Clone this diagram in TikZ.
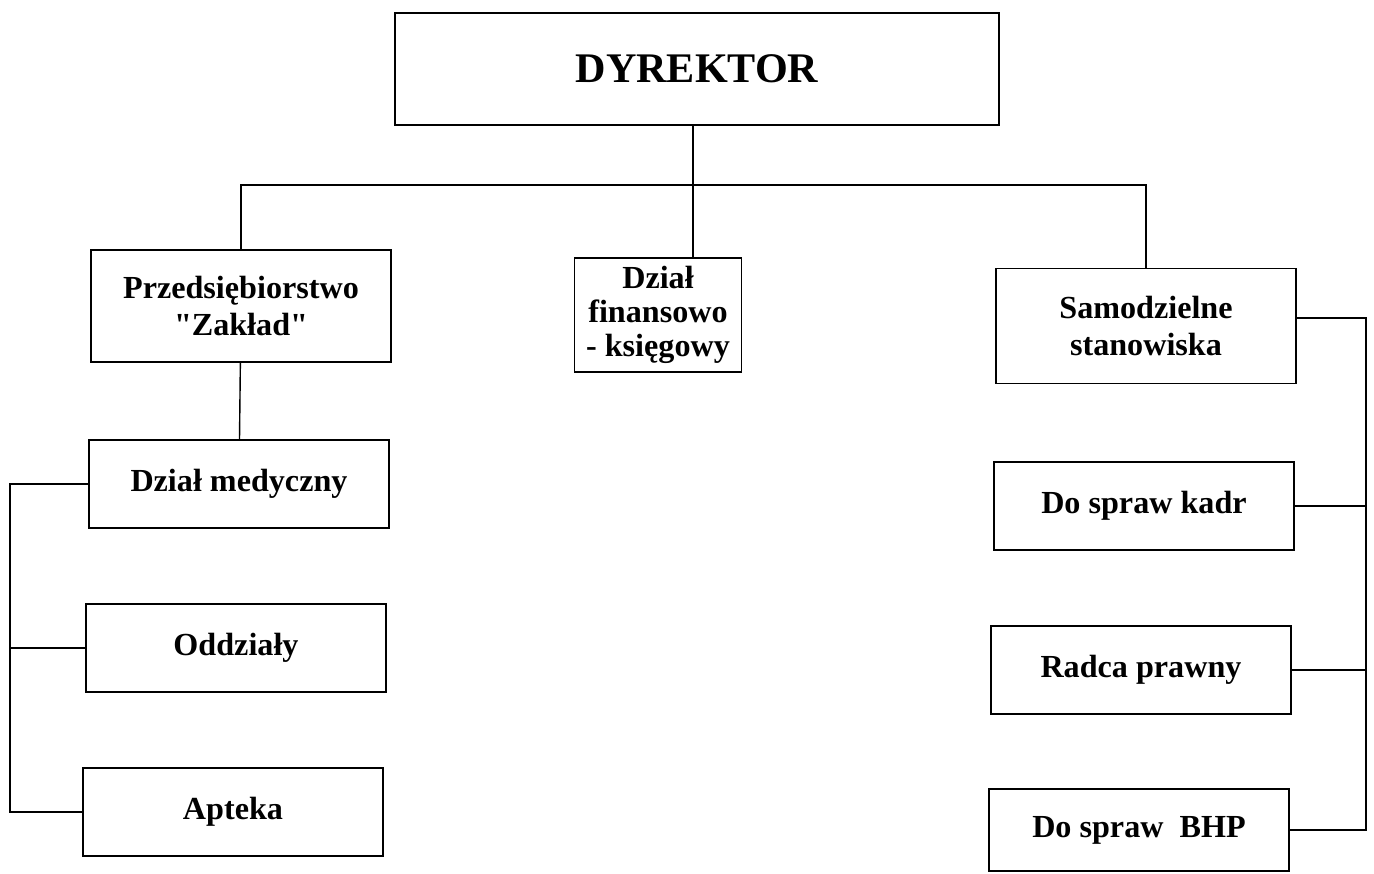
\documentclass[tikz,border=0pt]{standalone}
\usepackage{fontspec}
\setmainfont{Liberation Serif}
\begin{document}
\begin{tikzpicture}[x=0.02cm, y=-0.02cm, line width=0.8pt,
    box/.style={draw, line width=1pt, align=center, font=\bfseries\fontsize{18.3}{21}\selectfont,
                minimum width=6cm, minimum height=1.76cm, inner sep=1pt}]
  \useasboundingbox (0,0) rectangle (1374,874);

  \node[box, minimum width=12.08cm, minimum height=2.24cm, font=\bfseries\fontsize{24}{28}\selectfont] (dyr) at (697,69) {DYREKTOR};

  \node[box, minimum height=2.24cm] (prz) at (241,306) {Przedsiębiorstwo\\\textquotedbl Zakład\textquotedbl};
  \node[box, minimum width=3.34cm, minimum height=2.28cm, font=\bfseries\fontsize{18.3}{19.5}\selectfont] (fin) at (658,315) {Dział\\finansowo\\- księgowy};
  \node[box, minimum height=2.3cm] (sam) at (1146,326) {Samodzielne\\stanowiska};

  \node[box] (med) at (239,484) {Dział medyczny};
  \node[box] (odd) at (236,648) {Oddziały};
  \node[box] (apt) at (233,812) {Apteka};

  \node[box] (kadr) at (1144,506) {Do spraw kadr};
  \node[box] (radca) at (1141,670) {Radca prawny};
  \node[box, minimum height=1.64cm] (bhp) at (1139,830) {Do spraw~~BHP};

  \coordinate (bus) at (693,185);
  \coordinate (lb) at (10,0);
  \coordinate (rb) at (1366,0);

  \draw (dyr.south -| bus) -- (bus |- fin.north);
  \draw (prz.north) |- (bus) -| (sam.north);
  \draw (prz) -- (med);

  % left bus
  \draw (med.west) -- (med.west -| lb) -- (apt.west -| lb) -- (apt.west);
  \draw (odd.west) -- (odd.west -| lb);

  % right bus
  \draw ([yshift=0.16cm]sam.east) -- ([yshift=0.16cm]sam.east -| rb) -- (bhp.east -| rb) -- (bhp.east);
  \draw (kadr.east) -- (kadr.east -| rb);
  \draw (radca.east) -- (radca.east -| rb);
\end{tikzpicture}
\end{document}
